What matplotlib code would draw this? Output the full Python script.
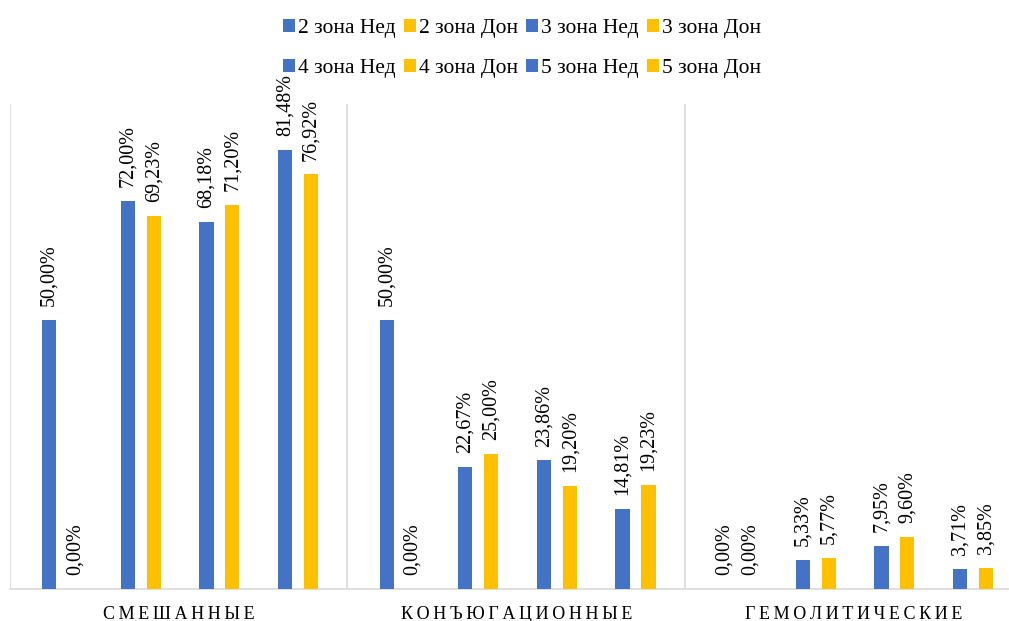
import numpy as np
import matplotlib
matplotlib.use("Agg")
import matplotlib.pyplot as plt

# data (percent)
categories = ["СМЕШАННЫЕ", "КОНЪЮГАЦИОННЫЕ", "ГЕМОЛИТИЧЕСКИЕ"]
zones = ["2 зона", "3 зона", "4 зона", "5 зона"]
ned = [[50.00, 72.00, 68.18, 81.48],
       [50.00, 22.67, 23.86, 14.81],
       [0.00, 5.33, 7.95, 3.71]]
don = [[0.00, 69.23, 71.20, 76.92],
       [0.00, 25.00, 19.20, 19.23],
       [0.00, 5.77, 9.60, 3.85]]

blue = "#4472C4"
yellow = "#FFC000"
grid_col = "#D9D9D9"

plt.rcParams['font.family'] = ['Liberation Serif', 'DejaVu Serif']

fig = plt.figure(figsize=(10.09, 6.21), dpi=100)
ax = fig.add_axes([10 / 1009, 32 / 621, 1012.5 / 1009, 485 / 621])

x = np.arange(len(categories))
pair_off = np.array([-1.5, -0.5, 0.5, 1.5]) * 0.233 + 0.004
half = 0.0385
w = 0.042

def fmt(v):
    return ("%.2f%%" % v).replace(".", ",")

handles = []
for j, z in enumerate(zones):
    for vals, col, off, suf in [(ned, blue, -half, "Нед"), (don, yellow, half, "Дон")]:
        h = [vals[i][j] for i in range(len(categories))]
        pos = x + pair_off[j] + off
        b = ax.bar(pos, np.array(h) / 100, width=w, color=col, label=z + " " + suf, zorder=3)
        handles.append(b)
        for px, v in zip(pos, h):
            ax.annotate(fmt(v), (px, v / 100), xytext=(0, 10), textcoords="offset points",
                        rotation=90, ha="center", va="bottom", fontsize=14.5, color="#000000")

ax.set_xlim(-0.5, 2.5)
ax.set_ylim(0, 0.9)
for sx in [-0.5, 0.5, 1.5, 2.5]:
    ax.axvline(sx, color=grid_col, linewidth=1.2, zorder=1)

for s in ["top", "right", "left"]:
    ax.spines[s].set_visible(False)
ax.spines["bottom"].set_color(grid_col)
ax.spines["bottom"].set_linewidth(1.2)
ax.set_yticks([])
ax.set_xticks(x)
ax.set_xticklabels(["\u2009".join(c) for c in categories], fontsize=13)
ax.tick_params(axis="x", length=0, pad=12)

# matplotlib fills legend columns first, reorder so rows read left to right
order = [0, 4, 1, 5, 2, 6, 3, 7]
fig.legend(handles=[handles[k] for k in order], loc="upper center",
           bbox_to_anchor=(522 / 1009, 1.0), ncol=4,
           frameon=False, fontsize=15.5, handlelength=0.55, handleheight=0.55,
           handletextpad=0.15, columnspacing=0.38, labelspacing=0.95, borderaxespad=0.5)

fig.savefig("out.png", dpi=100)
